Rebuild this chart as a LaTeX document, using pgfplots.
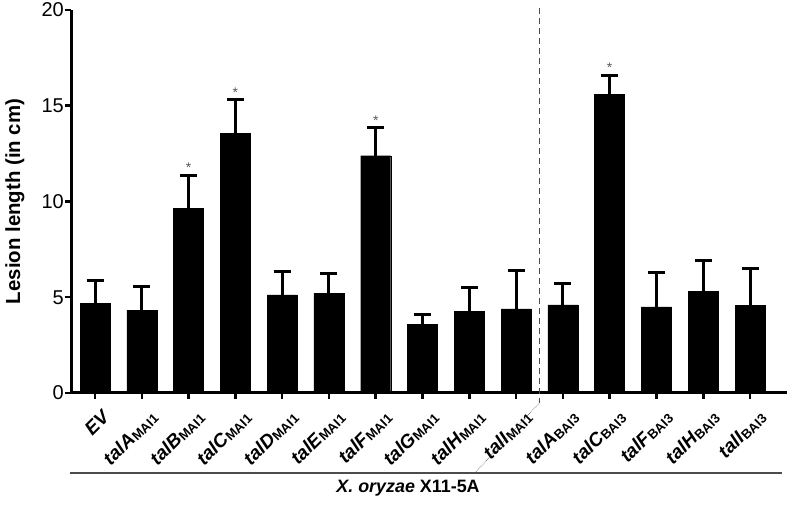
\documentclass[border=0pt]{standalone}
\usepackage{fontspec}
\setmainfont{Liberation Sans}
\usepackage{pgfplots}
\usepackage{pgfplotstable}
\pgfplotsset{compat=1.18}

\newcommand{\lab}[2]{\textbf{\textit{#1}}\raisebox{-1.5pt}{\fontsize{13.2}{13.2}\selectfont\textbf{#2}}}

\pgfplotstableread{
x y e
0 4.68 1.18
1 4.33 1.22
2 9.64 1.74
3 13.56 1.74
4 5.12 1.21
5 5.20 1.05
6 12.39 1.46
7 3.60 0.52
8 4.25 1.25
9 4.39 2.00
10 4.60 1.13
11 15.61 0.99
12 4.50 1.78
13 5.29 1.62
14 4.58 1.90
}\lesion

\pgfplotstableread{
x y
2 11.38
3 15.30
6 13.85
11 16.60
}\stars

\begin{document}
\begin{tikzpicture}
\path[use as bounding box] (0,0) rectangle (787pt,510pt);
\begin{axis}[
  at={(71pt,117pt)}, anchor=south west,
  scale only axis, width=716pt, height=383pt,
  xmin=-0.513, xmax=14.79, ymin=0, ymax=20,
  axis x line*=bottom, axis y line*=left,
  axis line style={line width=3pt, black, -},
  xtick={0,...,14},
  xticklabels={\textbf{\textit{EV}}\hspace{9pt},\lab{talA}{MAI1},\lab{talB}{MAI1},\lab{talC}{MAI1},\lab{talD}{MAI1},\lab{talE}{MAI1},\lab{talF}{MAI1},\lab{talG}{MAI1},\lab{talH}{MAI1},\lab{talI}{MAI1},\lab{talA}{BAI3},\lab{talC}{BAI3},\lab{talF}{BAI3},\lab{talH}{BAI3},\lab{talI}{BAI3}},
  ytick={0,5,10,15,20},
  tick align=outside, major tick length=6pt,
  tick style={line width=2.5pt, black},
  x tick label style={xshift=7pt, yshift=-8pt, rotate=45, anchor=north east, font=\fontsize{19}{19}\selectfont, inner sep=1pt},
  y tick label style={font=\fontsize{20}{22}\selectfont, inner sep=1pt},
  /pgf/number format/assume math mode=true,
  ylabel={\textbf{Lesion length (in cm)}},
  ylabel style={font=\fontsize{20.4}{22}\selectfont, at={(axis description cs:0,0.5)}, anchor=center, yshift=56pt},
  clip=false,
]
\addplot[ybar, bar width=30pt, fill=black, draw=black,
  error bars/.cd, y dir=plus, y explicit,
  error bar style={line width=3pt, black},
  error mark options={rotate=90, mark size=8.5pt, line width=3pt, black}]
  table[x=x, y=y, y error=e] {\lesion};
\addplot[draw=none, mark=none, nodes near coords={*},
  every node near coord/.append style={font=\fontsize{14}{14}\selectfont, text=black!65, anchor=south, yshift=-1pt}]
  table[x=x, y=y] {\stars};
\draw[dash pattern=on 6pt off 4pt, black!70, line width=0.9pt] (axis cs:9.5,20.1) -- (axis cs:9.5,-0.5);
\draw[densely dotted, black!70, line width=0.6pt] (axis cs:9.5,-0.5) -- (axis cs:8.12,-4.18);
\draw[black!70, line width=1.2pt] (axis cs:-0.534,-4.18) -- (axis cs:14.68,-4.18);
\node[font=\fontsize{17.9}{18}\selectfont\bfseries, anchor=center] at (axis cs:6.69,-4.96) {\textit{X. oryzae} X11-5A};
\end{axis}
\end{tikzpicture}
\end{document}
